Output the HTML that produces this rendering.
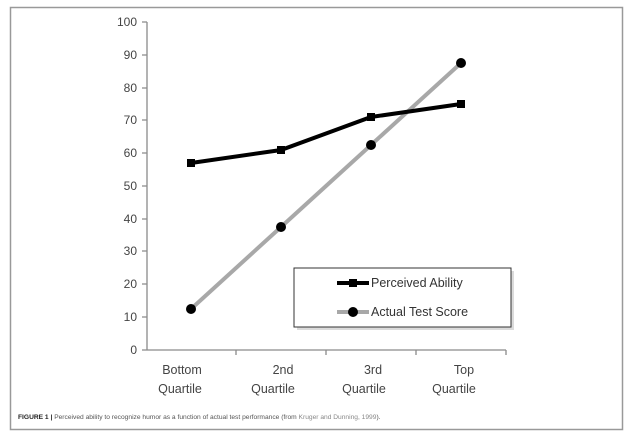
<!DOCTYPE html>
<html><head><style>
body{margin:0;background:#fff;width:630px;height:440px;overflow:hidden}
svg text{font-family:"Liberation Sans",sans-serif}
</style></head><body>
<svg width="630" height="440" viewBox="0 0 630 440">
<rect x="10.5" y="7.5" width="612" height="422" fill="#fff" stroke="#999" stroke-width="1.5"/>
<g stroke="#8a8a8a" stroke-width="1.3" fill="none">
<line x1="147" y1="22" x2="147" y2="350"/>
<line x1="147" y1="350" x2="506" y2="350"/>
<path d="M142 22H147M142 55H147M142 88H147M142 120H147M142 153H147M142 186H147M142 219H147M142 251H147M142 284H147M142 317H147M142 350H147"/>
<path d="M236 350V355M326 350V355M416 350V355M506 350V355"/>
</g>
<g font-size="12" fill="#444" text-anchor="end">
<text x="137" y="26">100</text><text x="137" y="59">90</text><text x="137" y="92">80</text>
<text x="137" y="124">70</text><text x="137" y="157">60</text><text x="137" y="190">50</text>
<text x="137" y="223">40</text><text x="137" y="255">30</text><text x="137" y="288">20</text>
<text x="137" y="321">10</text><text x="137" y="354">0</text>
</g>
<g font-size="12.5" fill="#444" text-anchor="middle">
<text x="182" y="374">Bottom</text><text x="180" y="393">Quartile</text>
<text x="283" y="374">2nd</text><text x="273" y="393">Quartile</text>
<text x="373" y="374">3rd</text><text x="364" y="393">Quartile</text>
<text x="464" y="374">Top</text><text x="454" y="393">Quartile</text>
</g>
<polyline points="191,309 281,227 371,145 461,63" fill="none" stroke="#a8a8a8" stroke-width="4"/>
<g fill="#000"><circle cx="191" cy="309" r="5"/><circle cx="281" cy="227" r="5"/><circle cx="371" cy="145" r="5"/><circle cx="461" cy="63" r="5"/></g>
<polyline points="191,163 281,150 371,117 461,104" fill="none" stroke="#000" stroke-width="4"/>
<g fill="#000"><rect x="187" y="159" width="8" height="8"/><rect x="277" y="146" width="8" height="8"/><rect x="367" y="113" width="8" height="8"/><rect x="457" y="100" width="8" height="8"/></g>
<rect x="297" y="271" width="217" height="59" fill="#ccc" opacity="0.7"/>
<rect x="294" y="268" width="217" height="59" fill="#fff" stroke="#333" stroke-width="1"/>
<line x1="337" y1="283" x2="369" y2="283" stroke="#000" stroke-width="4"/>
<rect x="349" y="279" width="8" height="8" fill="#000"/>
<line x1="337" y1="312" x2="369" y2="312" stroke="#a8a8a8" stroke-width="4"/>
<circle cx="353" cy="312" r="5" fill="#000"/>
<text x="371" y="287" font-size="12.5" fill="#333">Perceived Ability</text>
<text x="371" y="316" font-size="12.5" fill="#333">Actual Test Score</text>
<text x="18" y="419" font-size="6.65" fill="#555"><tspan font-weight="bold" fill="#222">FIGURE 1 |</tspan> Perceived ability to recognize humor as a function of actual test performance (from <tspan fill="#888">Kruger and Dunning, 1999</tspan>).</text>
</svg>
</body></html>
